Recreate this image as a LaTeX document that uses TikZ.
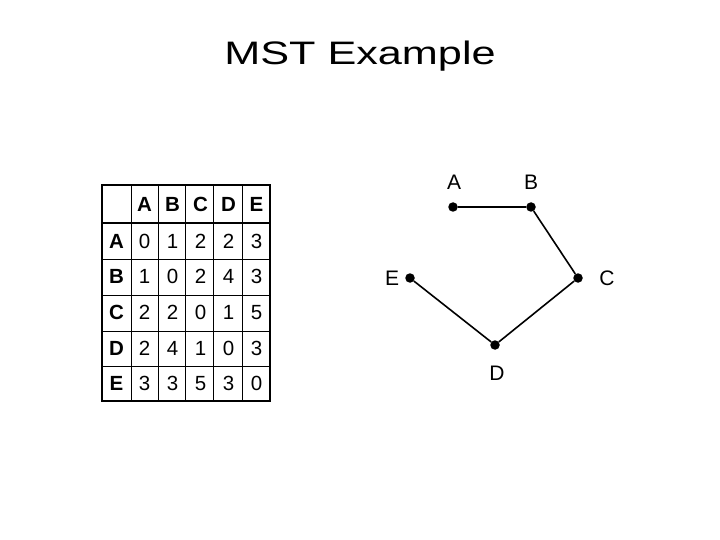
\documentclass[tikz,border=0pt]{standalone}
\usepackage{fontspec}
\setmainfont{Liberation Sans}
\usetikzlibrary{positioning}

\begin{document}
\begin{tikzpicture}[x=1pt,y=-1pt,
  vertex/.style={circle,fill=black,inner sep=0pt,minimum size=9.5pt},
  vname/.style={font=\fontsize{21}{25}\selectfont},
  cell/.style={font=\fontsize{20.5}{24}\selectfont,text height=14.7pt,text depth=0pt},
  head/.style={cell,font=\fontsize{20.5}{24}\selectfont\bfseries}]
\useasboundingbox (0,0) rectangle (720,540);
\node[font=\fontsize{32.5}{38}\selectfont,xscale=1.33,anchor=base] (title) at (360,65) {MST Example};
% distance table
\foreach \x in {131,158,185,213,242}
  \draw[line width=0.7pt] (\x,185)--(\x,401);
\foreach \y in {259,295,331,366}
  \draw[line width=0.7pt] (102,\y)--(270,\y);
\draw[line width=2.2pt] (102,223)--(270,223);
\draw[line width=2pt] (102,185) rectangle (270,401);
\foreach \l [count=\i] in {A,B,C,D,E}
  \node[head] (h\i) at (116.5+28*\i,204) {\l};
\foreach \l/\r [count=\j] in {A/{0,1,2,2,3},B/{1,0,2,4,3},C/{2,2,0,1,5},D/{2,4,1,0,3},E/{3,3,5,3,0}}{
  \node[head] (r\j) at (116.5,205.4+35.6*\j) {\l};
  \foreach \v [count=\i] in \r
    \node[cell] (c\j\i) at (116.5+28*\i,205.4+35.6*\j) {\v};
}
% spanning tree
\node[vertex] (A) at (453,207) {};
\node[vertex] (B) at (531,207) {};
\node[vertex] (C) at (578,278) {};
\node[vertex] (D) at (495,345) {};
\node[vertex] (E) at (410,278) {};
\node[vname] (lA) at (454,182) {A};
\node[vname] (lB) at (531,182) {B};
\node[vname] (lC) at (607,278) {C};
\node[vname] (lD) at (497,373) {D};
\node[vname] (lE) at (392,278) {E};
\draw[line width=1.6pt] (A)--(B)--(C)--(D)--(E);
\end{tikzpicture}
\end{document}
